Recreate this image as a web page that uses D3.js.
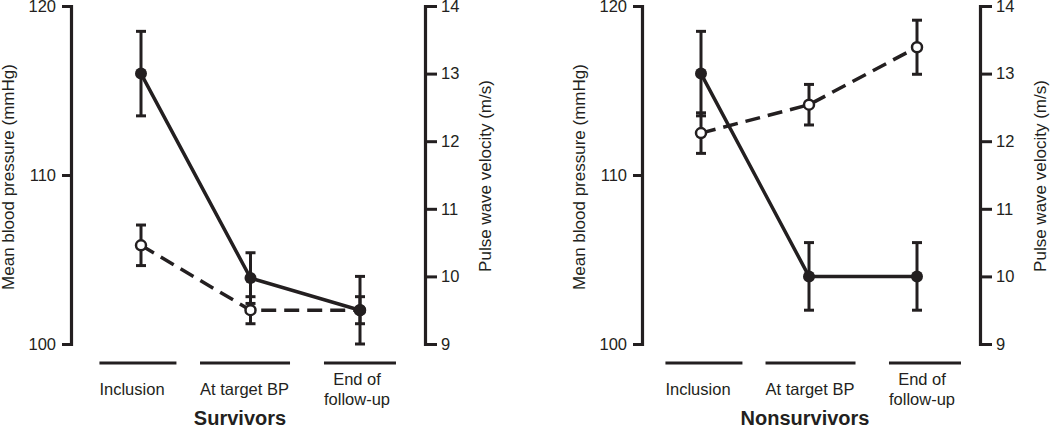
<!DOCTYPE html>
<html>
<head>
<meta charset="utf-8">
<script src="https://cdn.jsdelivr.net/npm/d3@7"></script>
<style>
  html, body { margin: 0; padding: 0; background: #fff; }
  svg { display: block; font-family: "Liberation Sans", Arial, Helvetica, sans-serif; }
</style>
</head>
<body>
<svg id="chart" width="1050" height="435"></svg>
<script>
// ---- data ----
const categories = ["Inclusion", "At target BP", "End of follow-up"];
const categoryLines = [["Inclusion"], ["At target BP"], ["End of", "follow-up"]];
const groups = ["Survivors", "Nonsurvivors"];

const survivorsMBP = [116, 103.9, 102];
const survivorsMBPErr = [2.5, 1.5, 2];
const survivorsPWV = [10.46, 9.5, 9.5];
const survivorsPWVErr = [0.3, 0.2, 0.2];

const nonsurvivorsMBP = [116, 104, 104];
const nonsurvivorsMBPErr = [2.5, 2, 2];
const nonsurvivorsPWV = [12.12, 12.54, 13.39];
const nonsurvivorsPWVErr = [0.3, 0.3, 0.4];

const mbpTicks = [100, 110, 120];
const pwvTicks = [9, 10, 11, 12, 13, 14];
const mbpLabel = "Mean blood pressure (mmHg)";
const pwvLabel = "Pulse wave velocity (m/s)";

// ---- layout ----
const ink = "#231f20";
const panels = [
  { title: groups[0], mbp: survivorsMBP, mbpErr: survivorsMBPErr, pwv: survivorsPWV, pwvErr: survivorsPWVErr,
    axisL: 71, axisR: 425, pts: [141, 360], labs: [132, 357], titleX: 240, leftTitleX: 8, rightTitleX: 485 },
  { title: groups[1], mbp: nonsurvivorsMBP, mbpErr: nonsurvivorsMBPErr, pwv: nonsurvivorsPWV, pwvErr: nonsurvivorsPWVErr,
    axisL: 642, axisR: 980, pts: [701, 917], labs: [698, 922], titleX: 805, leftTitleX: 579, rightTitleX: 1040 }
];
const barW = [77, 90, 72];
const yTop = 6, yBot = 344;

const svg = d3.select("#chart");

const yMBP = d3.scaleLinear().domain([100, 120]).range([yBot, yTop]);
const yPWV = d3.scaleLinear().domain([9, 14]).range([yBot, yTop]);

panels.forEach(p => {
  const g = svg.append("g");
  const x = d3.scalePoint().domain(categories).range(p.pts);
  const xl = d3.scalePoint().domain(categories).range(p.labs);

  // axes
  const aL = g.append("g").attr("transform", `translate(${p.axisL},0)`)
    .call(d3.axisLeft(yMBP).tickValues(mbpTicks).tickFormat(d3.format("d"))
      .tickSize(9).tickSizeOuter(9).tickPadding(6));
  const aR = g.append("g").attr("transform", `translate(${p.axisR},0)`)
    .call(d3.axisRight(yPWV).tickValues(pwvTicks).tickFormat(d3.format("d"))
      .tickSize(12).tickSizeOuter(12).tickPadding(4));
  [aL, aR].forEach(a => {
    a.select(".domain").attr("stroke", ink).attr("stroke-width", 3.2).attr("fill", "none");
    a.selectAll(".tick line").attr("stroke", ink).attr("stroke-width", 3);
    a.selectAll(".tick text").attr("fill", ink).style("font-size", "16.5px")
      .style("font-family", '"Liberation Sans", Arial, sans-serif');
  });

  // axis titles
  g.append("text")
    .attr("transform", `translate(${p.leftTitleX},${(yTop + yBot) / 2 + 2}) rotate(-90)`)
    .attr("text-anchor", "middle").attr("dominant-baseline", "central")
    .attr("fill", ink).style("font-size", "17px").text(mbpLabel);
  g.append("text")
    .attr("transform", `translate(${p.rightTitleX},${(yTop + yBot) / 2 + 1}) rotate(-90)`)
    .attr("text-anchor", "middle").attr("dominant-baseline", "central")
    .attr("fill", ink).style("font-size", "17px").text(pwvLabel);

  // category labels and bars
  categories.forEach((c, i) => {
    const lines = categoryLines[i];
    const t = g.append("text").attr("text-anchor", "middle").attr("fill", ink).style("font-size", "16.5px");
    const base = lines.length === 1 ? 395 : 385;
    lines.forEach((ln, j) => {
      t.append("tspan").attr("x", xl(c)).attr("y", base + j * 20).text(ln);
    });
    const bb = t.node().getBBox();
    g.append("line")
      .attr("x1", bb.x).attr("x2", bb.x + barW[i])
      .attr("y1", 363).attr("y2", 363)
      .attr("stroke", ink).attr("stroke-width", 3);
  });

  // panel title
  g.append("text").attr("x", p.titleX).attr("y", 425).attr("text-anchor", "middle")
    .attr("fill", ink).style("font-size", "20px").style("font-weight", "bold").text(p.title);

  // error bars
  const series = [
    { vals: p.mbp, err: p.mbpErr, y: yMBP },
    { vals: p.pwv, err: p.pwvErr, y: yPWV }
  ];
  series.forEach(s => {
    categories.forEach((c, i) => {
      const cx = x(c);
      const y1 = s.y(s.vals[i] - s.err[i]), y2 = s.y(s.vals[i] + s.err[i]);
      g.append("line").attr("x1", cx).attr("x2", cx).attr("y1", y1).attr("y2", y2)
        .attr("stroke", ink).attr("stroke-width", 3);
      [y1, y2].forEach(yy => g.append("line").attr("x1", cx - 5).attr("x2", cx + 5)
        .attr("y1", yy).attr("y2", yy).attr("stroke", ink).attr("stroke-width", 3));
    });
  });

  // lines
  const lineMBP = d3.line().x((d, i) => x(categories[i])).y(d => yMBP(d));
  const linePWV = d3.line().x((d, i) => x(categories[i])).y(d => yPWV(d));
  g.append("path").attr("d", linePWV(p.pwv)).attr("fill", "none").attr("stroke", ink)
    .attr("stroke-width", 3.5).attr("stroke-dasharray", "15,8");
  g.append("path").attr("d", lineMBP(p.mbp)).attr("fill", "none").attr("stroke", ink)
    .attr("stroke-width", 3.5);

  // markers
  g.selectAll(null).data(p.pwv).enter().append("circle")
    .attr("cx", (d, i) => x(categories[i])).attr("cy", d => yPWV(d)).attr("r", 5)
    .attr("fill", "#fff").attr("stroke", ink).attr("stroke-width", 2.5);
  g.selectAll(null).data(p.mbp).enter().append("circle")
    .attr("cx", (d, i) => x(categories[i])).attr("cy", d => yMBP(d)).attr("r", 6)
    .attr("fill", ink);
});
</script>
</body>
</html>
